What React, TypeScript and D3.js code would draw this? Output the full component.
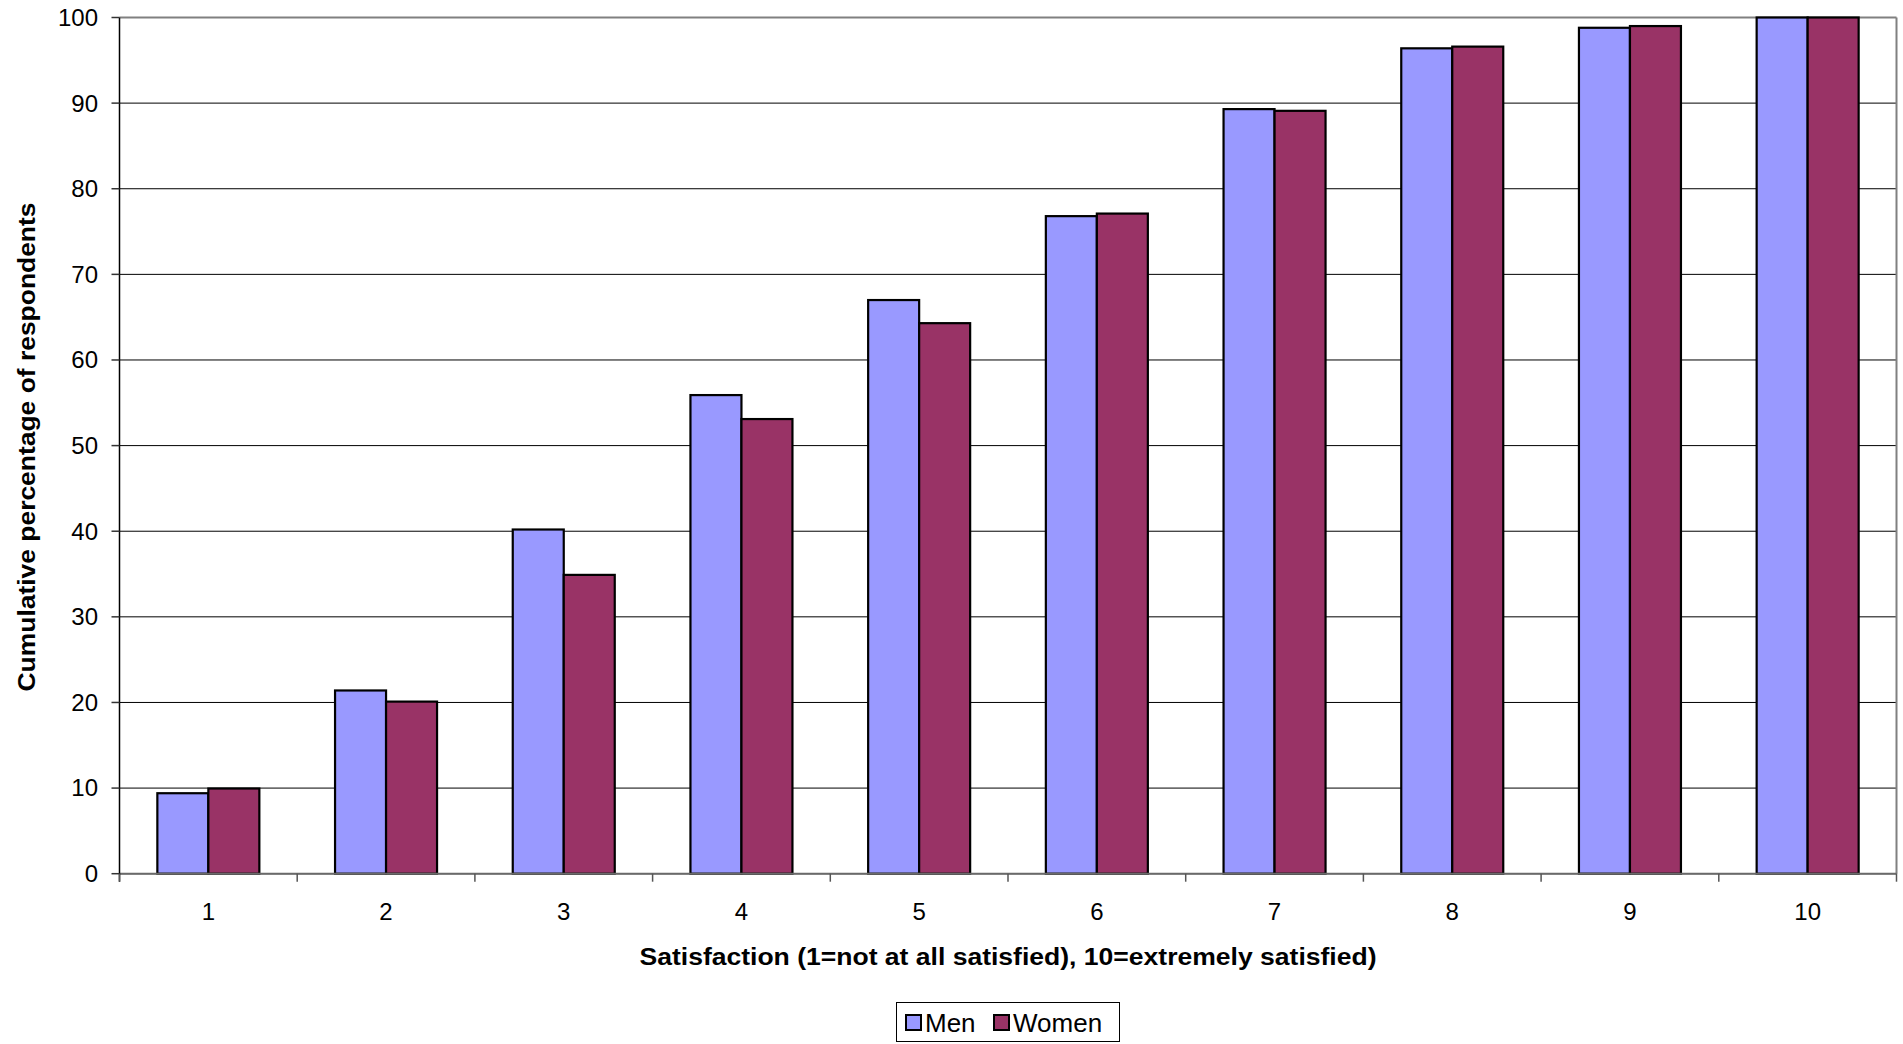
import React from "react";
import * as d3 from "d3";

const categories = ["1", "2", "3", "4", "5", "6", "7", "8", "9", "10"];
const men = [9.4, 21.4, 40.2, 55.9, 67.0, 76.8, 89.3, 96.4, 98.8, 100];
const women = [9.95, 20.1, 34.9, 53.1, 64.3, 77.1, 89.1, 96.6, 99.0, 100];
const yTicks = [0, 10, 20, 30, 40, 50, 60, 70, 80, 90, 100];
const seriesNames = ["Men", "Women"];
const seriesColors = ["#9999FF", "#993366"];

const W = 1903;
const H = 1044;
const plot = { left: 119.5, right: 1896.5, top: 17.5, bottom: 873.7 };
const FONT = "'Liberation Sans', Arial, sans-serif";

export default function App() {
  React.useEffect(() => {
    document.body.style.margin = "0";
    document.body.style.overflow = "hidden";
  }, []);

  const x = d3.scaleBand<string>().domain(categories).range([plot.left, plot.right]).paddingInner(0).paddingOuter(0);
  const y = d3.scaleLinear().domain([0, 100]).range([plot.bottom, plot.top]);
  const bw = x.bandwidth();
  const groupW = bw * 0.574;
  const inner = d3.scaleBand<string>().domain(seriesNames).range([0, groupW]);
  const series = [men, women];

  const boundaries = d3.range(categories.length + 1).map((i) => plot.left + i * bw);

  return (
    <svg width={W} height={H} style={{ display: "block", position: "absolute", left: 0, top: 0 }} fontFamily={FONT}>
      <rect x={0} y={0} width={W} height={H} fill="#fff" />
      {yTicks.map((t) => (
        <line key={"g" + t} x1={plot.left} x2={plot.right} y1={y(t)} y2={y(t)} stroke={t === 100 ? "#808080" : "#000"} strokeWidth={t === 100 ? 2 : 1} />
      ))}
      <line x1={plot.right} x2={plot.right} y1={plot.top} y2={plot.bottom} stroke="#808080" strokeWidth={2} />
      {categories.map((c, i) => {
        const gx = (x(c) as number) + (bw - groupW) / 2;
        return (
          <g key={c}>
            {series.map((s, j) => (
              <rect
                key={j}
                x={gx + (inner(seriesNames[j]) as number)}
                y={y(s[i])}
                width={inner.bandwidth()}
                height={y(0) - y(s[i])}
                fill={seriesColors[j]}
                stroke="#000"
                strokeWidth={2.2}
              />
            ))}
          </g>
        );
      })}
      <line x1={plot.left} x2={plot.right} y1={plot.bottom} y2={plot.bottom} stroke="#6a6a6a" strokeWidth={2} />
      <line x1={plot.left} x2={plot.left} y1={plot.top} y2={plot.bottom + 8} stroke="#000" strokeWidth={1.5} />
      {yTicks.map((t) => (
        <g key={"yt" + t}>
          <line x1={plot.left - 8} x2={plot.left} y1={y(t)} y2={y(t)} stroke="#333" strokeWidth={1.5} />
          <text x={98} y={y(t)} dy="0.35em" textAnchor="end" fontSize={24} fill="#000">
            {t}
          </text>
        </g>
      ))}
      {boundaries.map((b, i) => (
        <line key={"xt" + i} x1={b} x2={b} y1={plot.bottom} y2={plot.bottom + 8} stroke="#555" strokeWidth={1.5} />
      ))}
      {categories.map((c) => (
        <text key={"xl" + c} x={(x(c) as number) + bw / 2} y={912} dy="0.35em" textAnchor="middle" fontSize={24} fill="#000">
          {c}
        </text>
      ))}
      <text x={1008} y={957} dy="0.35em" textAnchor="middle" fontSize={23} fontWeight="bold" textLength={737} lengthAdjust="spacingAndGlyphs">
        Satisfaction (1=not at all satisfied), 10=extremely satisfied)
      </text>
      <text
        transform={`translate(27,447) rotate(-90)`}
        dy="0.35em"
        textAnchor="middle"
        fontSize={23}
        fontWeight="bold"
        textLength={489}
        lengthAdjust="spacingAndGlyphs"
      >
        Cumulative percentage of respondents
      </text>
      <rect x={896.5} y={1002.5} width={223} height={39} fill="#fff" stroke="#000" strokeWidth={1} />
      {seriesNames.map((n, j) => {
        const sx = j === 0 ? 906 : 994;
        return (
          <g key={n}>
            <rect x={sx} y={1015} width={15} height={15} fill={seriesColors[j]} stroke="#000" strokeWidth={2} />
            <text x={sx + 19} y={1023} dy="0.35em" fontSize={26} fill="#000">
              {n}
            </text>
          </g>
        );
      })}
    </svg>
  );
}
